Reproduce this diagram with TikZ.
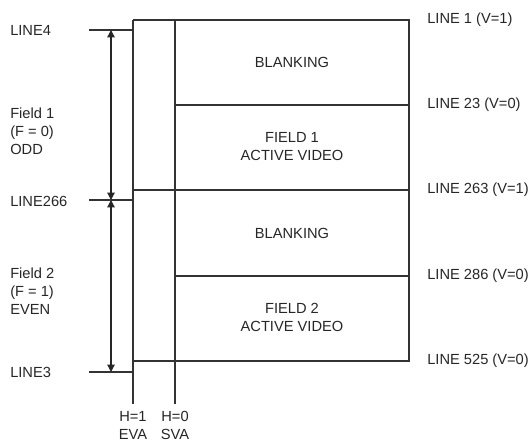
\documentclass[tikz,border=0pt]{standalone}
\usepackage{fontspec}
\setmainfont{Liberation Sans}
\usepackage{tikz}
\usetikzlibrary{calc,arrows.meta}

\tikzset{
  txt/.style={inner sep=0pt, font=\fontsize{11}{13.5}\selectfont, text=black!85},
  frame/.style={line width=1.1pt, black!80},
  dim/.style={line width=0.9pt, black!85, {Triangle[length=5.5pt,width=5.5pt]}-{Triangle[length=5.5pt,width=5.5pt]}}
}

\begin{document}
\begin{tikzpicture}[x=0.75pt,y=-0.75pt]
  \useasboundingbox (0,0) rectangle (531,441);
  % corners of the frame and the dividing lines
  \coordinate (tl) at (133,20);
  \coordinate (tr) at (409,20);
  \coordinate (bl) at (133,361);
  \coordinate (br) at (409,361);
  \coordinate (st) at (175,20);
  \coordinate (eva) at (133,404);
  \coordinate (sva) at (175,404);
  \coordinate (a1) at (175,105);
  \coordinate (a2) at (409,105);
  \coordinate (m1) at (133,190);
  \coordinate (m2) at (409,190);
  \coordinate (b1) at (175,276);
  \coordinate (b2) at (409,276);
  \draw[frame] (tl)--(tr)--(br)--(bl);
  \draw[frame] (tl)--(eva);
  \draw[frame] (st)--(sva);
  \draw[frame] (a1)--(a2);
  \draw[frame] (m1)--(m2);
  \draw[frame] (b1)--(b2);
  % ticks and field arrows on the left
  \coordinate (t4) at (89,30);   \coordinate (t4e) at (133,30);
  \coordinate (t266) at (89,200); \coordinate (t266e) at (133,200);
  \coordinate (t3) at (89,372);  \coordinate (t3e) at (133,372);
  \draw[frame] (t4)--(t4e);
  \draw[frame] (t266)--(t266e);
  \draw[frame] (t3)--(t3e);
  \coordinate (d4) at (111,30);
  \coordinate (d266) at (111,200);
  \coordinate (d3) at (111,372);
  \draw[dim] (d4)--(d266);
  \draw[dim] (d266)--(d3);
  % left labels
  \node[txt, anchor=west] (l4) at (10,30) {LINE4};
  \node[txt, anchor=west, align=left] (f1) at (10,131) {Field 1\\(F = 0)\\ODD};
  \node[txt, anchor=west] (l266) at (10,201) {LINE266};
  \node[txt, anchor=west, align=left] (f2) at (10,291) {Field 2\\(F = 1)\\EVEN};
  \node[txt, anchor=west] (l3) at (10,372) {LINE3};
  % right labels
  \node[txt, anchor=west] (r1) at (427,20) {LINE 1 (V=1)};
  \node[txt, anchor=west] (r23) at (427,105) {LINE 23 (V=0)};
  \node[txt, anchor=west] (r263) at (427,190) {LINE 263 (V=1)};
  \node[txt, anchor=west] (r286) at (427,276) {LINE 286 (V=0)};
  \node[txt, anchor=west] (r525) at (427,361) {LINE 525 (V=0)};
  % inside the frame
  \node[txt] (bl1) at (292,62) {BLANKING};
  \node[txt, align=center] (av1) at (292,147) {FIELD 1\\ACTIVE VIDEO};
  \node[txt] (bl2) at (292,233) {BLANKING};
  \node[txt, align=center] (av2) at (292,317) {FIELD 2\\ACTIVE VIDEO};
  % bottom labels
  \node[txt, align=center] (h1) at (133,425) {H=1\\EVA};
  \node[txt, align=center] (h0) at (175,425) {H=0\\SVA};
\end{tikzpicture}
\end{document}
